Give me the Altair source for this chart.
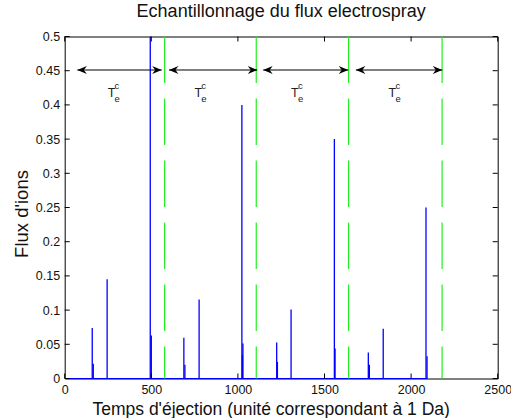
import altair as alt
import pandas as pd

# ---- data ----
spike_x = [159, 165, 245, 494, 500, 688, 694, 776, 1023, 1026, 1029, 1224, 1228,
           1307, 1557, 1561, 1753, 1759, 1839, 2086, 2092]
spike_y = [0.074, 0.0215, 0.145, 0.5, 0.063, 0.0595, 0.02, 0.1155, 0.40, 0.034, 0.051,
           0.0526, 0.024, 0.101, 0.35, 0.044, 0.038, 0.02, 0.0726, 0.25, 0.0326]
baseline_range = [10, 2095]
green_x = [577, 1106, 1639, 2179]
arrow_start = [73, 602, 1146, 1681]
arrow_end = [560, 1112, 1637, 2180]
arrow_y = 0.451
label_x = [270, 771, 1329, 1892]
label_y = 0.411
x_ticks = [0, 500, 1000, 1500, 2000, 2500]
y_ticks = [0, 0.05, 0.1, 0.15, 0.2, 0.25, 0.3, 0.35, 0.4, 0.45, 0.5]

title = "Echantillonnage du flux electrospray"
x_title = "Temps d'éjection (unité correspondant à 1 Da)"
y_title = "Flux d'ions"

FONT = "Liberation Sans"
W, H = 433, 342
PAD_L, PAD_T = 64.7, 36.5

xs = alt.Scale(domain=[0, 2500], nice=False, zero=False)
ys = alt.Scale(domain=[0, 0.5], nice=False, zero=False)
xax = alt.Axis(values=x_ticks, format="d", title=x_title, labelOverlap=False,
               labelFlush=False, titleX=206, titleY=36,
               titleAlign="center", titleBaseline="alphabetic", titleFontSize=17.5)
yax = alt.Axis(values=y_ticks, format="~g", title=y_title, labelOverlap=False,
               labelFlush=False, titleX=-37.5, titleY=177, titleAngle=270,
               titleAlign="center", titleBaseline="alphabetic", titleFontSize=18.5)

spikes = pd.DataFrame({"x": spike_x, "y": spike_y})
base = pd.DataFrame({"x": [baseline_range[0]], "x2": [baseline_range[1]], "y": [0]})
greens = pd.DataFrame({"x": green_x})
arrows = pd.DataFrame({"x": arrow_start, "x2": arrow_end, "y": [arrow_y] * 4})
labels = pd.DataFrame({"x": label_x, "y": [label_y] * 4})
xt = pd.DataFrame({"v": x_ticks})
yt = pd.DataFrame({"v": y_ticks})

X = lambda f: alt.X(f, scale=xs, axis=xax)
Y = lambda f: alt.Y(f, scale=ys, axis=yax)

baseline = alt.Chart(base).mark_rule(color="#0000ff", strokeWidth=1.2).encode(
    x=X("x:Q"), x2="x2:Q", y=Y("y:Q"))

spike_layer = alt.Chart(spikes).mark_rule(color="#0000ff", strokeWidth=1.3, clip=True).encode(
    x=X("x:Q"), y=alt.Y("y:Q", scale=ys, axis=yax), y2=alt.datum(0))

green_layer = alt.Chart(greens).mark_rule(color="#22ee22", strokeWidth=1.2,
                                          strokeDash=[46.5, 15.5]).encode(
    x=X("x:Q"), y=alt.value(0), y2=alt.value(H))

shaft = alt.Chart(arrows).mark_rule(color="black", strokeWidth=1.2).encode(
    x=X("x:Q"), x2="x2:Q", y=Y("y:Q"))

left_head = alt.Chart(arrows).mark_point(
    shape="M 0 0 L 1.9 -0.8 L 1.3 0 L 1.9 0.8 Z", size=100, filled=True,
    color="black", opacity=1).encode(x=X("x:Q"), y=Y("y:Q"))
right_head = alt.Chart(arrows).mark_point(
    shape="M 0 0 L -1.9 -0.8 L -1.3 0 L -1.9 0.8 Z", size=100, filled=True,
    color="black", opacity=1).encode(x=X("x2:Q"), y=Y("y:Q"))

t_main = alt.Chart(labels).mark_text(text="T", font=FONT, fontSize=12.5, align="center",
                                     baseline="alphabetic", color="#222").encode(
    x=X("x:Q"), y=Y("y:Q"))
t_sup = alt.Chart(labels).mark_text(text="c", font=FONT, fontSize=9.5, align="left",
                                    baseline="alphabetic", dx=3, dy=-8.7, color="#222").encode(
    x=X("x:Q"), y=Y("y:Q"))
t_sub = alt.Chart(labels).mark_text(text="e", font=FONT, fontSize=9.5, align="left",
                                    baseline="alphabetic", dx=3, dy=4.3, color="#222").encode(
    x=X("x:Q"), y=Y("y:Q"))

tick_b = alt.Chart(xt).mark_rule(color="black").encode(
    x=X("v:Q"), y=alt.value(H), y2=alt.value(H - 5))
tick_t = alt.Chart(xt).mark_rule(color="black").encode(
    x=X("v:Q"), y=alt.value(0), y2=alt.value(5))
tick_l = alt.Chart(yt).mark_rule(color="black").encode(
    y=Y("v:Q"), x=alt.value(0), x2=alt.value(5))
tick_r = alt.Chart(yt).mark_rule(color="black").encode(
    y=Y("v:Q"), x=alt.value(W), x2=alt.value(W - 5))

chart = alt.layer(
    baseline, spike_layer, green_layer, shaft, left_head, right_head,
    t_main, t_sup, t_sub, tick_b, tick_t, tick_l, tick_r
).properties(
    width=W, height=H,
    title=alt.TitleParams(title, font=FONT, fontSize=18, fontWeight="normal",
                          color="#111", anchor="middle", offset=10),
    autosize=alt.AutoSizeParams(type="none"),
    padding={"left": PAD_L, "top": PAD_T,
             "right": 511 - PAD_L - W, "bottom": 418 - PAD_T - H},
    background="white",
).configure_view(
    stroke="black", strokeWidth=1
).configure_axis(
    grid=False, ticks=False, domain=False,
    labelFont=FONT, labelFontSize=12.5, labelColor="#111", labelPadding=5,
    titleFont=FONT, titleFontWeight="normal", titleColor="#111",
)

chart.save("out.html", embed_options={"renderer": "svg", "actions": False})
